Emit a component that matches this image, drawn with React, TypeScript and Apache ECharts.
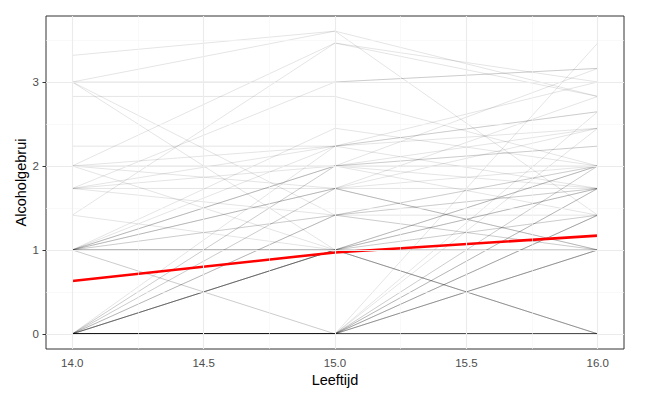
import React, { useEffect, useRef } from "react";
import * as echarts from "echarts";

const ages = [14, 15, 16];

// alcohol use per adolescent at ages 14, 15, 16
const trajectories: number[][] = [
  [0, 0, 0], [0, 0, 0], [0, 0, 0], [0, 0, 0], [0, 0, 0], [0, 0, 0],
  [0, 0, 0], [0, 0, 0], [0, 0, 0], [0, 0, 0], [0, 0, 0], [0, 0, 0],
  [0, 0, 0], [0, 0, 0], [0, 0, 0], [0, 0, 0], [0, 0, 0],
  [0, 0, 1], [0, 0, 1], [0, 0, 1], [0, 0, 1],
  [0, 0, 1.414], [0, 0, 1.414], [0, 0, 1.414],
  [0, 0, 1.732], [0, 0, 1.732], [0, 0, 1.732],
  [0, 0, 2], [0, 0, 2],
  [0, 0, 2.449], [0, 0, 2.646], [0, 0, 3.464],
  [0, 1, 0], [0, 1, 0], [0, 1, 0], [0, 1, 0],
  [0, 1, 1], [0, 1, 1.414], [0, 1, 1.732], [0, 1, 2],
  [0, 1.414, 1.732], [0, 1.414, 2], [0, 1.414, 1],
  [0, 1.732, 2], [0, 1.732, 1],
  [0, 2, 2.449], [0, 2, 1.414],
  [0, 2.236, 2.646],
  [1, 1, 1], [1, 1, 1], [1, 1, 0],
  [1, 0, 1], [1, 0, 1.414],
  [1, 1.414, 2], [1, 1.732, 1.732], [1, 2, 2.236], [1, 2.236, 3],
  [1, 1.414, 1], [1, 2, 1.732], [1, 1.732, 2.449], [1, 1, 1.414],
  [1, 2.449, 2], [1, 1, 2], [1, 2, 3.162], [1, 1.732, 2.828],
  [1.414, 1, 1.732], [1.414, 3.464, 2.828],
  [1.732, 2, 2], [1.732, 1.732, 1], [1.732, 2.236, 2.646],
  [1.732, 3, 3.162], [1.732, 1.414, 1.414],
  [2, 3.464, 3], [2, 2.236, 2.449], [2, 1.732, 1], [2, 2, 2.236], [2, 1, 1.732],
  [2.236, 2.236, 1.732],
  [2.828, 2.828, 2],
  [3, 1, 2], [3, 1.414, 1.732], [3, 3, 3.162], [3, 3.606, 1.414],
  [3.317, 3.606, 2.828],
];

const meanAlcuse = [0.63, 0.97, 1.17];

const xTicks = [14, 14.5, 15, 15.5, 16];
const xMinor = [14.25, 14.75, 15.25, 15.75];
const yTicks = [0, 1, 2, 3];
const yMinor = [0.5, 1.5, 2.5, 3.5];

export default function App() {
  const ref = useRef<HTMLDivElement>(null);
  useEffect(() => {
    if (!ref.current) return;
    const chart = echarts.init(ref.current, null, { renderer: "svg" });
    const font = "Liberation Sans, Arial, sans-serif";
    const major = { color: "#ebebeb", width: 1.1, type: "solid" };
    const minor = { color: "#f5f5f5", width: 0.6, type: "solid" };
    const gridSeries: any = {
      type: "line",
      data: [[14, 0]],
      symbol: "none",
      lineStyle: { opacity: 0 },
      silent: true,
      z: 0,
      markLine: {
        silent: true,
        symbol: ["none", "none"],
        label: { show: false },
        animation: false,
        data: [
          ...xMinor.map((v) => ({ xAxis: v, lineStyle: minor })),
          ...yMinor.map((v) => ({ yAxis: v, lineStyle: minor })),
          ...xTicks.map((v) => ({ xAxis: v, lineStyle: major })),
          ...yTicks.map((v) => ({ yAxis: v, lineStyle: major })),
        ],
      },
    };
    const lineSeries = trajectories.map((t) => ({
      type: "line",
      data: ages.map((a, i) => [a, t[i]]),
      symbol: "none",
      silent: true,
      z: 2,
      lineStyle: { color: "rgba(0,0,0,0.12)", width: 0.9 },
    }));
    const meanSeries = {
      type: "line",
      data: ages.map((a, i) => [a, meanAlcuse[i]]),
      symbol: "none",
      silent: true,
      z: 3,
      lineStyle: { color: "#ff0000", width: 2.6 },
    };
    chart.setOption({
      animation: false,
      grid: {
        left: 46,
        right: 44,
        top: 16,
        bottom: 46,
        show: true,
        borderColor: "#333333",
        borderWidth: 1,
        backgroundColor: "#ffffff",
      },
      xAxis: {
        type: "value",
        min: 13.9,
        max: 16.1,
        name: "Leeftijd",
        nameLocation: "middle",
        nameGap: 23,
        nameMoveOverlap: false,
        nameTextStyle: { fontFamily: font, fontSize: 14.5, color: "#000" },
        axisLine: { show: false },
        splitLine: { show: false },
        axisTick: { show: true, customValues: xTicks, length: 3.5, lineStyle: { color: "#333", width: 1 } },
        axisLabel: {
          customValues: xTicks,
          formatter: (v: number) => v.toFixed(1),
          fontFamily: font,
          fontSize: 11.5,
          color: "#4d4d4d",
          margin: 8,
        },
      },
      yAxis: {
        type: "value",
        min: -0.18,
        max: 3.786,
        name: "Alcoholgebrui",
        nameLocation: "middle",
        nameGap: 18,
        nameMoveOverlap: false,
        nameTextStyle: { fontFamily: font, fontSize: 14.5, color: "#000" },
        axisLine: { show: false },
        splitLine: { show: false },
        axisTick: { show: true, customValues: yTicks, length: 3.5, lineStyle: { color: "#333", width: 1 } },
        axisLabel: {
          customValues: yTicks,
          formatter: (v: number) => String(v),
          fontFamily: font,
          fontSize: 11.5,
          color: "#4d4d4d",
          margin: 7,
        },
      },
      series: [gridSeries, ...lineSeries, meanSeries],
    });
    return () => chart.dispose();
  }, []);
  return (
    <div
      ref={ref}
      style={{ position: "fixed", left: 0, top: 0, width: 668, height: 395, background: "#fff" }}
    />
  );
}
